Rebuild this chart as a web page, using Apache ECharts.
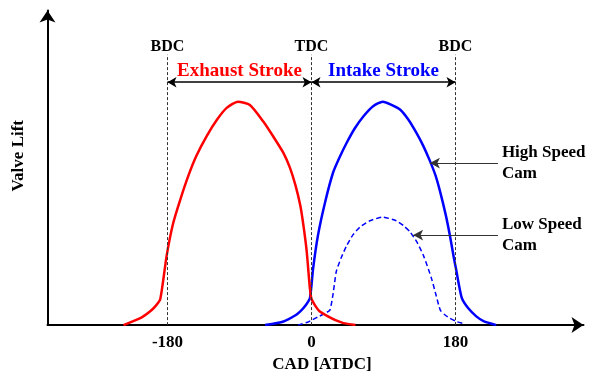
<!DOCTYPE html>
<html>
<head>
<meta charset="utf-8">
<script src="https://cdn.jsdelivr.net/npm/echarts@6/dist/echarts.min.js"></script>
<style>
  html, body { margin: 0; padding: 0; background: #fff; }
  #chart { width: 597px; height: 378px; }
</style>
</head>
<body>
<div id="chart"></div>
<script>
// crank angle (deg ATDC) and valve lift (peak ~ 10)
const exhaustCad = [-235, -214, -202, -195, -189, -181, -173, -164, -154, -144, -131, -118, -106, -92, -77, -60, -48, -35, -27, -20, -14, -10, -6, -2, 0, 5, 10, 20, 30, 40, 55]
const exhaustLift = [0, 0.31, 0.61, 0.85, 1.17, 3.12, 4.55, 5.62, 6.68, 7.57, 8.46, 9.2, 9.72, 10.0, 9.85, 9.1, 8.45, 7.7, 7.05, 6.25, 5.35, 4.44, 3.3, 1.64, 1.17, 0.85, 0.62, 0.4, 0.22, 0.09, 0]

const highCad = [-58, -35, -20, -14, -8, -2, 2, 8, 17, 27, 35, 44, 54, 65, 77, 89, 100, 111, 121, 131, 140, 148, 155, 161, 168, 173, 178, 181, 184, 188, 196, 206, 215, 231]
const highLift = [0, 0.16, 0.44, 0.61, 0.85, 1.2, 2.53, 4.0, 5.5, 6.83, 7.5, 8.16, 8.8, 9.35, 9.8, 10.0, 9.86, 9.64, 9.2, 8.61, 8.0, 7.35, 6.7, 5.94, 4.9, 4.01, 3.0, 2.45, 1.85, 1.2, 0.75, 0.39, 0.18, 0]

const lowCad = [-17, -5, 0, 10, 18, 23, 27, 31, 37, 44, 52, 61, 73, 89, 106, 115, 123, 132, 140, 150, 156, 161, 167, 173, 182, 192]
const lowLift = [0, 0.13, 0.22, 0.4, 0.55, 0.67, 1.4, 2.4, 3.0, 3.56, 4.05, 4.4, 4.67, 4.83, 4.67, 4.45, 4.18, 3.7, 3.11, 2.09, 1.3, 0.67, 0.45, 0.31, 0.15, 0.05]

const tickValues = [-180, 0, 180]
const deadCenters = ['BDC', 'TDC', 'BDC']
const deadCenterTop = 12.1
const strokeLift = 10.87
const camLabelCad = 233
const highCamTip = [148, 7.25]
const lowCamTip = [127, 4.03]

const serif = '"Liberation Serif", "Times New Roman", serif'
const zip = (xs, ys) => xs.map((x, i) => [x, ys[i]])

const chart = echarts.init(document.getElementById('chart'))

const strokeArrow = (from, to, name, color) => ({
  silent: true,
  animation: false,
  symbol: ['arrow', 'arrow'],
  symbolSize: [8, 9],
  lineStyle: { color: '#000', width: 1.5, type: 'solid' },
  label: {
    show: true,
    position: 'middle',
    distance: 2,
    formatter: name,
    color: color,
    fontFamily: serif,
    fontWeight: 'bold',
    fontSize: 19
  },
  emphasis: { disabled: true },
  data: [[{ coord: [from, strokeLift] }, { coord: [to, strokeLift] }]]
})

const option = {
  animation: false,
  grid: { left: 47.5, right: 13.5, top: 10.5, bottom: 50.5 },
  xAxis: {
    type: 'value',
    min: -330,
    max: 340,
    name: 'CAD [ATDC]',
    nameLocation: 'middle',
    nameGap: 24,
    nameTextStyle: {
      fontFamily: serif, fontWeight: 'bold', fontSize: 17, color: '#000',
      padding: [0, 0, 0, 13]
    },
    axisLine: {
      onZero: false,
      lineStyle: { color: '#000', width: 2 },
      symbol: ['none', 'arrow'],
      symbolSize: [12, 12]
    },
    axisTick: { show: false },
    splitLine: { show: false },
    axisLabel: {
      customValues: tickValues,
      margin: 9,
      fontFamily: serif, fontWeight: 'bold', fontSize: 17, color: '#000'
    }
  },
  yAxis: {
    type: 'value',
    min: 0,
    max: 14.08,
    name: 'Valve Lift',
    nameLocation: 'middle',
    nameGap: 20,
    nameTextStyle: {
      fontFamily: serif, fontWeight: 'bold', fontSize: 17, color: '#000',
      padding: [0, 0, 0, 24]
    },
    axisLine: {
      onZero: false,
      lineStyle: { color: '#000', width: 2 },
      symbol: ['none', 'arrow'],
      symbolSize: [12, 12]
    },
    axisTick: { show: false },
    axisLabel: { show: false },
    splitLine: { show: false }
  },
  series: [
    {
      name: 'dead centres',
      type: 'line',
      data: [],
      markLine: {
        silent: true,
        animation: false,
        symbol: ['none', 'none'],
        lineStyle: { color: '#333', width: 1, type: [3, 2] },
        label: {
          show: true,
          position: 'end',
          distance: 0,
          formatter: '{b}',
          color: '#000',
          fontFamily: serif,
          fontWeight: 'bold',
          fontSize: 16
        },
        emphasis: { disabled: true },
        data: tickValues.map((v, i) => [
          { coord: [v, 0], name: deadCenters[i] },
          { coord: [v, deadCenterTop] }
        ])
      }
    },
    {
      name: 'cam labels',
      type: 'line',
      data: [],
      markLine: {
        silent: true,
        animation: false,
        symbol: ['none', 'arrow'],
        symbolSize: [8, 10],
        lineStyle: { color: '#333', width: 1.2, type: 'solid' },
        label: {
          show: true,
          position: 'start',
          distance: 4,
          formatter: '{b}',
          color: '#000',
          fontFamily: serif,
          fontWeight: 'bold',
          fontSize: 17,
          lineHeight: 21,
          align: 'left'
        },
        emphasis: { disabled: true },
        data: [
          [{ coord: [camLabelCad, highCamTip[1]], name: 'High Speed\nCam' }, { coord: highCamTip }],
          [{ coord: [camLabelCad, lowCamTip[1]], name: 'Low Speed\nCam' }, { coord: lowCamTip }]
        ]
      }
    },
    {
      name: 'High Speed Cam',
      type: 'line',
      data: zip(highCad, highLift),
      smooth: 0.2,
      showSymbol: false,
      lineStyle: { color: '#0000ff', width: 2.5 },
      markLine: strokeArrow(0, 180, 'Intake Stroke', '#0000ff')
    },
    {
      name: 'Low Speed Cam',
      type: 'line',
      data: zip(lowCad, lowLift),
      smooth: 0.2,
      showSymbol: false,
      lineStyle: { color: '#0000ff', width: 1.5, type: [5, 3] }
    },
    {
      name: 'Exhaust',
      type: 'line',
      data: zip(exhaustCad, exhaustLift),
      smooth: 0.2,
      showSymbol: false,
      lineStyle: { color: '#ff0000', width: 2.5 },
      markLine: strokeArrow(-180, 0, 'Exhaust Stroke', '#ff0000')
    }
  ]
}

chart.setOption(option)
</script>
</body>
</html>
